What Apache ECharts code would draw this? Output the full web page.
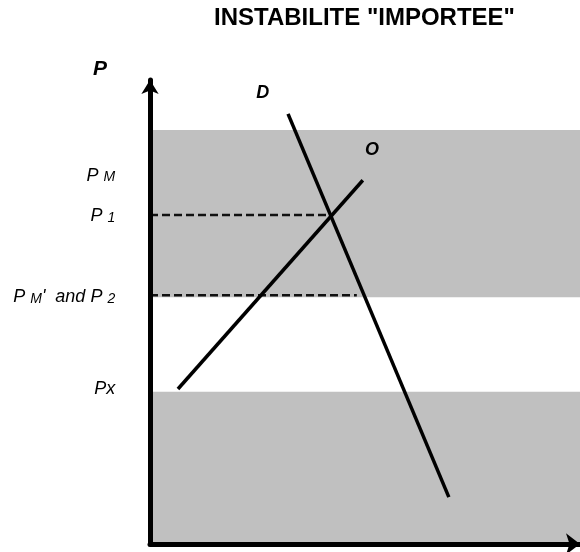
<!DOCTYPE html>
<html>
<head>
<meta charset="utf-8">
<script src="https://cdn.jsdelivr.net/npm/echarts@6/dist/echarts.min.js"></script>
<style>
  html, body { margin: 0; padding: 0; background: #fff; }
  #chart { width: 580px; height: 552px; }
</style>
</head>
<body>
<div id="chart"></div>
<script>
// chart units: quantity 0-100 across the plot, price 0-100 up the plot
const bandRanges = [[53.2, 89.2], [0, 32.8]];
const demandX = [32.1, 69.5];
const demandY = [92.7, 10.1];
const supplyX = [6.5, 49.5];
const supplyY = [33.4, 78.4];
const priceP1 = 70.9;
const priceP2 = 53.6;
const dashEndP1 = 42.3;
const dashEndP2 = 48.1;

const priceLabels = [
  { text: '{p|P}{s|M}', y: 79.4 },
  { text: '{p|P}{s|1}', y: 70.6 },
  { text: "{p|P}{s|M}{p|'  and P}{s|2}", y: 53.2 },
  { text: '{p|Px}', y: 33.4 }
];
const curveLabels = [
  { text: 'P', x: -11.6, y: 102.3, size: 21 },
  { text: 'D', x: 26.2, y: 97.1, size: 18 },
  { text: 'O', x: 51.6, y: 84.9, size: 18 }
];

const chart = echarts.init(document.getElementById('chart'), null, { renderer: 'canvas' });

const font = 'Liberation Sans, Arial, sans-serif';
const rich = {
  p: { fontSize: 18, fontStyle: 'italic', fontFamily: font, color: '#000', lineHeight: 18, verticalAlign: 'top' },
  s: { fontSize: 14, fontStyle: 'italic', fontFamily: font, color: '#000', lineHeight: 14, padding: [10, 0, 0, 5], verticalAlign: 'bottom' }
};

chart.setOption({
  animation: false,
  title: {
    text: 'INSTABILITE "IMPORTEE"',
    left: 209,
    top: 1,
    textStyle: { fontFamily: font, fontSize: 24, fontWeight: 'bold', color: '#000' }
  },
  grid: { left: 150, right: 0, top: 80, bottom: 8 },
  xAxis: {
    type: 'value', min: 0, max: 100, z: 10,
    axisLine: { lineStyle: { color: '#000', width: 5 }, symbol: ['none', 'arrow'], symbolSize: [16, 14] },
    axisTick: { show: false }, axisLabel: { show: false }, splitLine: { show: false }
  },
  yAxis: {
    type: 'value', min: 0, max: 100, z: 10,
    axisLine: { show: true, lineStyle: { color: '#000', width: 5 }, symbol: ['none', 'arrow'], symbolSize: [13, 14] },
    axisTick: { show: false }, axisLabel: { show: false }, splitLine: { show: false }
  },
  series: [
    {
      type: 'line', data: [], silent: true,
      markArea: {
        silent: true,
        itemStyle: { color: '#c0c0c0' },
        data: bandRanges.map(b => [{ xAxis: 0, yAxis: b[0] }, { xAxis: 100, yAxis: b[1] }])
      }
    },
    {
      name: 'P1', type: 'line', symbol: 'none', z: 3,
      lineStyle: { color: '#111', width: 2.5, type: [8, 4] },
      data: [[0, priceP1], [dashEndP1, priceP1]]
    },
    {
      name: 'P2', type: 'line', symbol: 'none', z: 3,
      lineStyle: { color: '#111', width: 2.5, type: [8, 4] },
      data: [[0, priceP2], [dashEndP2, priceP2]]
    },
    {
      name: 'D', type: 'line', symbol: 'none', z: 4,
      lineStyle: { color: '#000', width: 3.5 },
      data: demandX.map((x, i) => [x, demandY[i]])
    },
    {
      name: 'O', type: 'line', symbol: 'none', z: 4,
      lineStyle: { color: '#000', width: 3.5 },
      data: supplyX.map((x, i) => [x, supplyY[i]])
    },
    {
      type: 'scatter', symbolSize: 0, clip: false, silent: true,
      itemStyle: { opacity: 1 },
      label: {
        show: true, position: 'left', distance: 0, textBorderWidth: 0,
        formatter: p => p.data.text, rich: rich
      },
      data: priceLabels.map(l => ({ value: [-8.1, l.y], text: l.text }))
    },
    {
      type: 'scatter', symbolSize: 0, clip: false, silent: true,
      itemStyle: { opacity: 1 },
      label: {
        show: true, position: 'inside', textBorderWidth: 0,
        formatter: p => p.data.text,
        fontFamily: font, fontWeight: 'bold', fontStyle: 'italic', color: '#000'
      },
      data: curveLabels.map(l => ({ value: [l.x, l.y], text: l.text, label: { fontSize: l.size } }))
    }
  ]
});
</script>
</body>
</html>
